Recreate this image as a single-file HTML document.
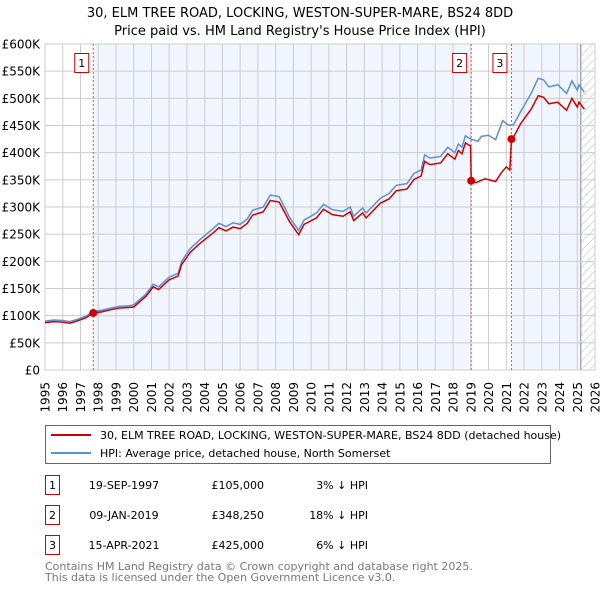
<!DOCTYPE html>
<html><head><meta charset="utf-8"><style>
body{margin:0;background:#fff;width:600px;height:590px;overflow:hidden;font-family:"DejaVu Sans","Liberation Sans",sans-serif;}
svg text{font-family:"DejaVu Sans","Liberation Sans",sans-serif;}
</style></head><body>
<svg id="chart" width="600" height="590" xmlns="http://www.w3.org/2000/svg">
<defs><pattern id="hatch" width="6" height="6" patternUnits="userSpaceOnUse" patternTransform="rotate(45)"><line x1="0" y1="0" x2="0" y2="6" stroke="#bbb" stroke-width="1"/></pattern></defs>
<text x="300" y="17" text-anchor="middle" font-size="13">30, ELM TREE ROAD, LOCKING, WESTON-SUPER-MARE, BS24 8DD</text>
<text x="300" y="35" text-anchor="middle" font-size="13">Price paid vs. HM Land Registry's House Price Index (HPI)</text>
<g id="plot"></g>
<g>
<rect x="45.5" y="425.5" width="505" height="38" fill="#fff" stroke="#666"/>
<line x1="51" y1="435" x2="91" y2="435" stroke="#cc0000" stroke-width="2"/>
<text x="100" y="439" font-size="11">30, ELM TREE ROAD, LOCKING, WESTON-SUPER-MARE, BS24 8DD (detached house)</text>
<line x1="51" y1="453" x2="91" y2="453" stroke="#5b8fd4" stroke-width="2"/>
<text x="100" y="457" font-size="11">HPI: Average price, detached house, North Somerset</text>
</g>
<g font-size="11">
<rect x="45.5" y="475.5" width="14" height="19" fill="#fff" stroke="#cc0000"/><text x="52.5" y="489" text-anchor="middle">1</text>
<text x="124" y="489" text-anchor="middle">19-SEP-1997</text>
<text x="264" y="489" text-anchor="end">£105,000</text>
<text x="368" y="489" text-anchor="end">3% ↓ HPI</text>
<rect x="45.5" y="505.5" width="14" height="19" fill="#fff" stroke="#cc0000"/><text x="52.5" y="519" text-anchor="middle">2</text>
<text x="124" y="519" text-anchor="middle">09-JAN-2019</text>
<text x="264" y="519" text-anchor="end">£348,250</text>
<text x="368" y="519" text-anchor="end">18% ↓ HPI</text>
<rect x="45.5" y="535.5" width="14" height="19" fill="#fff" stroke="#cc0000"/><text x="52.5" y="549" text-anchor="middle">3</text>
<text x="124" y="549" text-anchor="middle">15-APR-2021</text>
<text x="264" y="549" text-anchor="end">£425,000</text>
<text x="368" y="549" text-anchor="end">6% ↓ HPI</text>
</g>
<text x="45" y="570" font-size="11" fill="#777">Contains HM Land Registry data © Crown copyright and database right 2025.</text>
<text x="45" y="581" font-size="11" fill="#777">This data is licensed under the Open Government Licence v3.0.</text>
</svg>
<script>
const hpiDates=[1995.0,1995.5,1996.0,1996.4,1996.8,1997.3,1997.7,1998.2,1998.7,1999.2,1999.7,2000.0,2000.7,2001.1,2001.4,2002.0,2002.5,2002.7,2003.2,2003.7,2004.5,2004.8,2005.2,2005.6,2006.0,2006.4,2006.7,2007.3,2007.7,2008.2,2008.8,2009.3,2009.6,2010.3,2010.7,2011.2,2011.8,2012.2,2012.4,2012.9,2013.1,2013.9,2014.4,2014.8,2015.4,2015.8,2016.2,2016.4,2016.7,2017.3,2017.7,2018.1,2018.3,2018.5,2018.7,2019.0,2019.4,2019.6,2020.0,2020.4,2020.8,2021.1,2021.4,2021.8,2022.4,2022.8,2023.1,2023.4,2023.9,2024.4,2024.7,2025.0,2025.1,2025.4];
const hpiValues=[90,92,91,89,93,99,108,110,114,117,118,120,140,158,153,171,178,200,224,239,261,270,264,271,268,278,294,300,322,319,280,257,276,289,305,295,292,300,283,298,289,316,325,340,343,362,368,396,390,393,410,400,416,410,431,425,421,430,432,424,459,451,451,475,509,537,534,521,525,509,532,515,525,511];
const priceDates=[1995.0,1995.5,1996.0,1996.4,1996.8,1997.3,1997.72,1998.2,1998.7,1999.2,1999.7,2000.0,2000.7,2001.1,2001.4,2002.0,2002.5,2002.7,2003.2,2003.7,2004.5,2004.8,2005.2,2005.6,2006.0,2006.4,2006.7,2007.3,2007.7,2008.2,2008.8,2009.3,2009.6,2010.3,2010.7,2011.2,2011.8,2012.2,2012.4,2012.9,2013.1,2013.9,2014.4,2014.8,2015.4,2015.8,2016.2,2016.4,2016.7,2017.3,2017.7,2018.1,2018.3,2018.5,2018.7,2018.99,2019.02,2019.3,2019.8,2020.4,2020.7,2021.0,2021.2,2021.29,2021.4,2021.8,2022.4,2022.8,2023.1,2023.4,2023.9,2024.4,2024.7,2025.0,2025.1,2025.4];
const priceValues=[87,89,88,86,90,96,105,107,111,114,115,116,136,153,148,166,173,194,217,232,253,262,256,263,260,270,285,291,312,309,272,249,268,280,296,286,283,291,275,289,280,307,315,330,333,351,357,384,378,381,398,388,404,398,418,412,348,345,352,347,362,374,368,425,428,453,480,505,502,490,493,478,500,484,493,480];
const saleDates=[1997.72,2019.02,2021.29];
const saleValues=[105,348.25,425];
const saleLabels=["1","2","3"];
const yTicks=[0,50,100,150,200,250,300,350,400,450,500,550,600];
const yTickLabels=["£0","£50K","£100K","£150K","£200K","£250K","£300K","£350K","£400K","£450K","£500K","£550K","£600K"];
const xTicks=[1995,1996,1997,1998,1999,2000,2001,2002,2003,2004,2005,2006,2007,2008,2009,2010,2011,2012,2013,2014,2015,2016,2017,2018,2019,2020,2021,2022,2023,2024,2025,2026];
const dataEnd=2025.2;

const L=45,R=595,T=44,B=370,X0=1995,X1=2026,YMAX=600;
const sx=v=>L+(v-X0)/(X1-X0)*(R-L);
const sy=v=>B-v/YMAX*(B-T);
const NS="http://www.w3.org/2000/svg";
const g=document.getElementById('plot');
function mk(tag,attrs){const e=document.createElementNS(NS,tag);for(const k in attrs)e.setAttribute(k,attrs[k]);g.appendChild(e);return e;}

// shaded ownership bands
for(let i=0;i<saleDates.length;i++){
  const a=saleDates[i],b=i+1<saleDates.length?saleDates[i+1]:dataEnd;
  if(i===1) continue;
  const r=mk('rect',{x:sx(a),y:T,width:sx(b)-sx(a),height:B-T,fill:'#eef3fc',opacity:'0.8'});
  
  
}
const h=mk('rect',{x:sx(dataEnd),y:T,width:R-sx(dataEnd),height:B-T,fill:'url(#hatch)'});


const hl=mk('line',{x1:sx(dataEnd),x2:sx(dataEnd),y1:T,y2:B,stroke:'#888'});



yTicks.forEach((t,i)=>{
  const l=mk('line',{x1:L,x2:R,y1:sy(t),y2:sy(t),stroke:'#ccc','stroke-width':1});
  
  
  const tx=mk('text',{x:40,y:sy(t)+4.5,'text-anchor':'end','font-size':12});
  tx.textContent=yTickLabels[i];
  
  
});
xTicks.forEach(t=>{
  const l=mk('line',{x1:sx(t),x2:sx(t),y1:T,y2:B,stroke:'#ccc','stroke-width':1});
  
  
  const tx=mk('text',{x:0,y:0,'font-size':12,'text-anchor':'end',transform:`translate(${sx(t)+4.5},382) rotate(-90)`});
  tx.textContent=String(t);
  
  
});
const fr=mk('rect',{x:L,y:T,width:R-L,height:B-T,fill:'none',stroke:'#ccc'});



saleDates.forEach((d,i)=>{
  const l=mk('line',{x1:sx(d),x2:sx(d),y1:T,y2:B,stroke:'#e05050','stroke-dasharray':'2,2','stroke-width':1});
  
  
});

const hp=mk('polyline',{points:hpiDates.map((d,i)=>sx(d)+','+sy(hpiValues[i])).join(' '),fill:'none',stroke:'#5b8fd4','stroke-width':1.5});


const pp=mk('polyline',{points:priceDates.map((d,i)=>sx(d)+','+sy(priceValues[i])).join(' '),fill:'none',stroke:'#cc0000','stroke-width':1.5});



saleDates.forEach((d,i)=>{
  const c=mk('circle',{cx:sx(d),cy:sy(saleValues[i]),r:4,fill:'#cc0000'});
  
  
  const bx=mk('rect',{x:sx(d)-18.5,y:53.5,width:14,height:19,fill:'#fff',stroke:'#cc0000'});
  
  
  const tx=mk('text',{x:sx(d)-11.5,y:67,'text-anchor':'middle','font-size':11});
  tx.textContent=saleLabels[i];
  
  
});
</script>
</body></html>
